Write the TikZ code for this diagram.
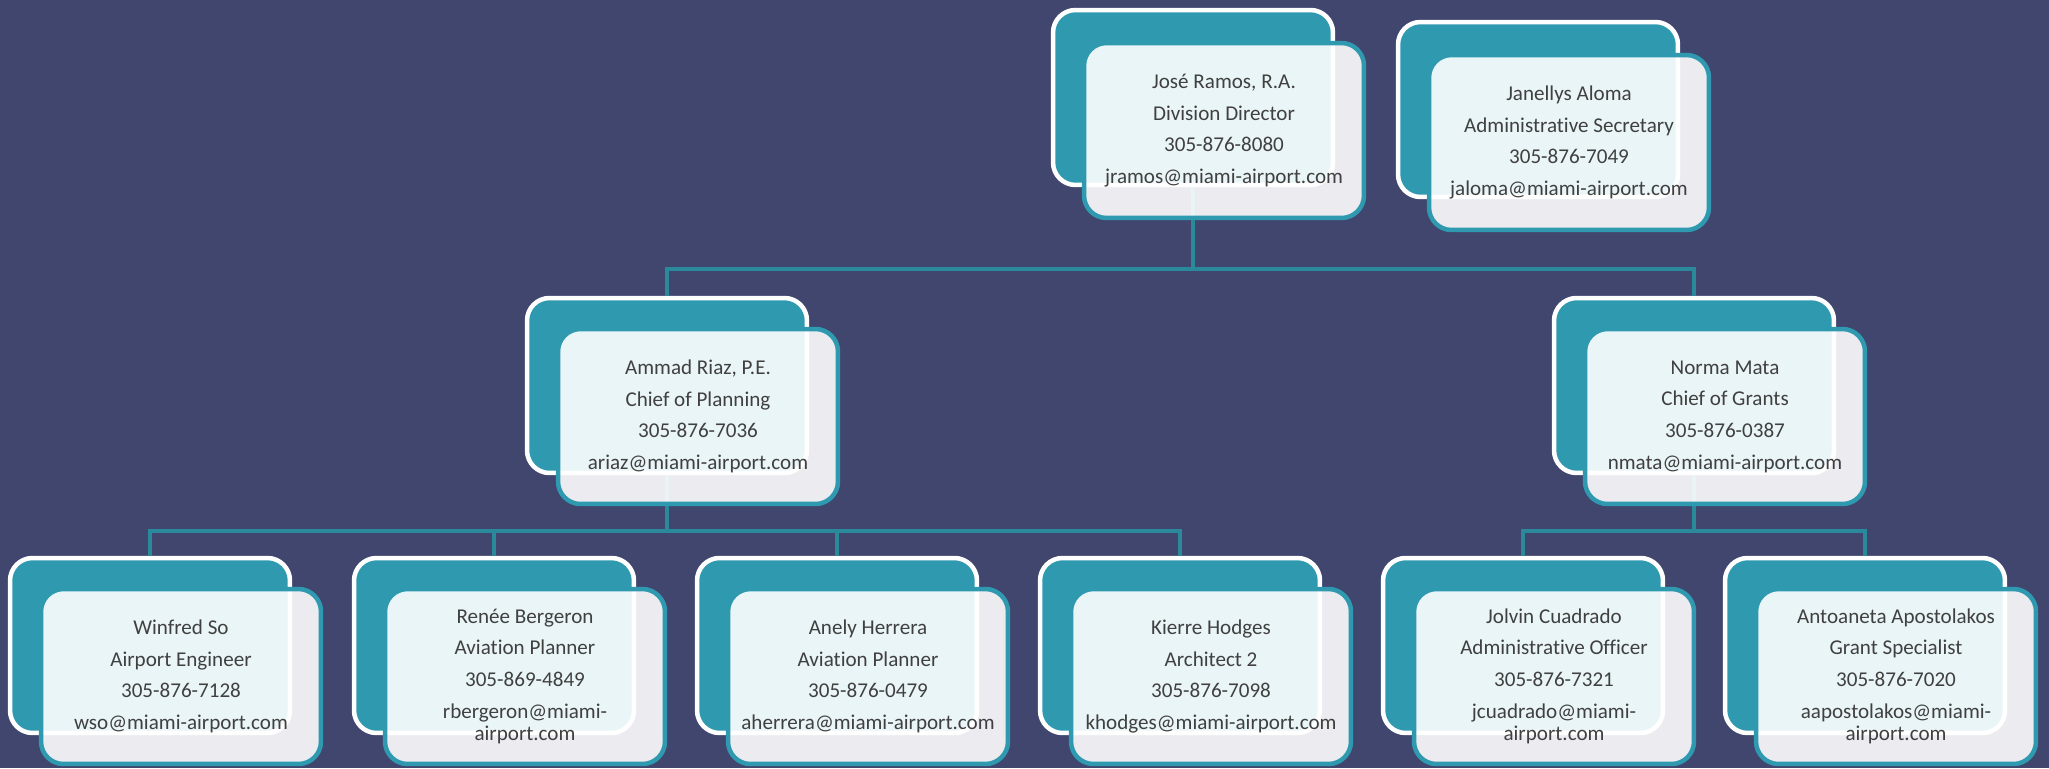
\documentclass[tikz,border=0pt]{standalone}
\usepackage{fontspec}
\setmainfont{Carlito}[Ligatures=CommonOff]
\definecolor{navy}{RGB}{64,70,110}
\definecolor{tealbox}{RGB}{46,153,175}
\definecolor{tealline}{RGB}{42,138,155}
\definecolor{inktext}{RGB}{64,64,64}
\begin{document}
\begin{tikzpicture}[x=0.02cm, y=-0.02cm,
	backbox/.style={draw=white, line width=0.09cm, fill=tealbox, rounded corners=0.45cm,
		minimum width=5.6cm, minimum height=3.5cm, inner sep=0pt},
	frontbox/.style={draw=tealbox, line width=0.09cm, fill=white, fill opacity=0.9, text opacity=1,
		rounded corners=0.45cm, minimum width=5.6cm, minimum height=3.5cm, inner sep=0pt,
		align=center, text=inktext, font=\fontsize{12}{18}\selectfont},
	link/.style={draw=tealline, line width=0.08cm}]

	\useasboundingbox[fill=navy] (0, 0) rectangle (2049, 768);

	% back cards
	\node[backbox] (jose-b)		at (1193, 97.5) {};
	\node[backbox] (janellys-b)	at (1538, 109.5) {};
	\node[backbox] (ammad-b)	at (667, 385.5) {};
	\node[backbox] (norma-b)	at (1694, 385.5) {};
	\node[backbox] (winfred-b)	at (150, 645.5) {};
	\node[backbox] (renee-b)	at (494, 645.5) {};
	\node[backbox] (anely-b)	at (837, 645.5) {};
	\node[backbox] (kierre-b)	at (1180, 645.5) {};
	\node[backbox] (jolvin-b)	at (1523, 645.5) {};
	\node[backbox] (antoaneta-b)	at (1865, 645.5) {};

	% connectors
	\coordinate (bus-top)	at (1193, 269);
	\coordinate (bus-plan)	at (667, 531);
	\coordinate (bus-grant)	at (1694, 531);

	\draw[link]	(jose-b.south) -- (bus-top) -| (ammad-b.north)
				(bus-top) -| (norma-b.north);
	\draw[link]	(ammad-b.south) -- (bus-plan) -| (winfred-b.north)
				(bus-plan) -| (renee-b.north)
				(bus-plan) -| (anely-b.north)
				(bus-plan) -| (kierre-b.north);
	\draw[link]	(norma-b.south) -- (bus-grant) -| (jolvin-b.north)
				(bus-grant) -| (antoaneta-b.north);

	% front cards
	\node[frontbox] (jose)		at ([shift={(31, 33)}]jose-b) {José Ramos, R.A.\\Division Director\\305-876-8080\\jramos@miami-airport.com};
	\node[frontbox] (janellys)	at ([shift={(31, 33)}]janellys-b) {Janellys Aloma\\Administrative Secretary\\305-876-7049\\jaloma@miami-airport.com};
	\node[frontbox] (ammad)		at ([shift={(31, 31)}]ammad-b) {Ammad Riaz, P.E.\\Chief of Planning\\305-876-7036\\ariaz@miami-airport.com};
	\node[frontbox] (norma)		at ([shift={(31, 31)}]norma-b) {Norma Mata\\Chief of Grants\\305-876-0387\\nmata@miami-airport.com};
	\node[frontbox] (winfred)	at ([shift={(31, 31)}]winfred-b) {Winfred So\\Airport Engineer\\305-876-7128\\wso@miami-airport.com};
	\node[frontbox] (renee)		at ([shift={(31, 31)}]renee-b) {Renée Bergeron\\Aviation Planner\\305-869-4849\\rbergeron@miami-\\[-5pt]airport.com};
	\node[frontbox] (anely)		at ([shift={(31, 31)}]anely-b) {Anely Herrera\\Aviation Planner\\305-876-0479\\aherrera@miami-airport.com};
	\node[frontbox] (kierre)	at ([shift={(31, 31)}]kierre-b) {Kierre Hodges\\Architect 2\\305-876-7098\\khodges@miami-airport.com};
	\node[frontbox] (jolvin)	at ([shift={(31, 31)}]jolvin-b) {Jolvin Cuadrado\\Administrative Officer\\305-876-7321\\jcuadrado@miami-\\[-5pt]airport.com};
	\node[frontbox] (antoaneta)	at ([shift={(31, 31)}]antoaneta-b) {Antoaneta Apostolakos\\Grant Specialist\\305-876-7020\\aapostolakos@miami-\\[-5pt]airport.com};
\end{tikzpicture}
\end{document}
